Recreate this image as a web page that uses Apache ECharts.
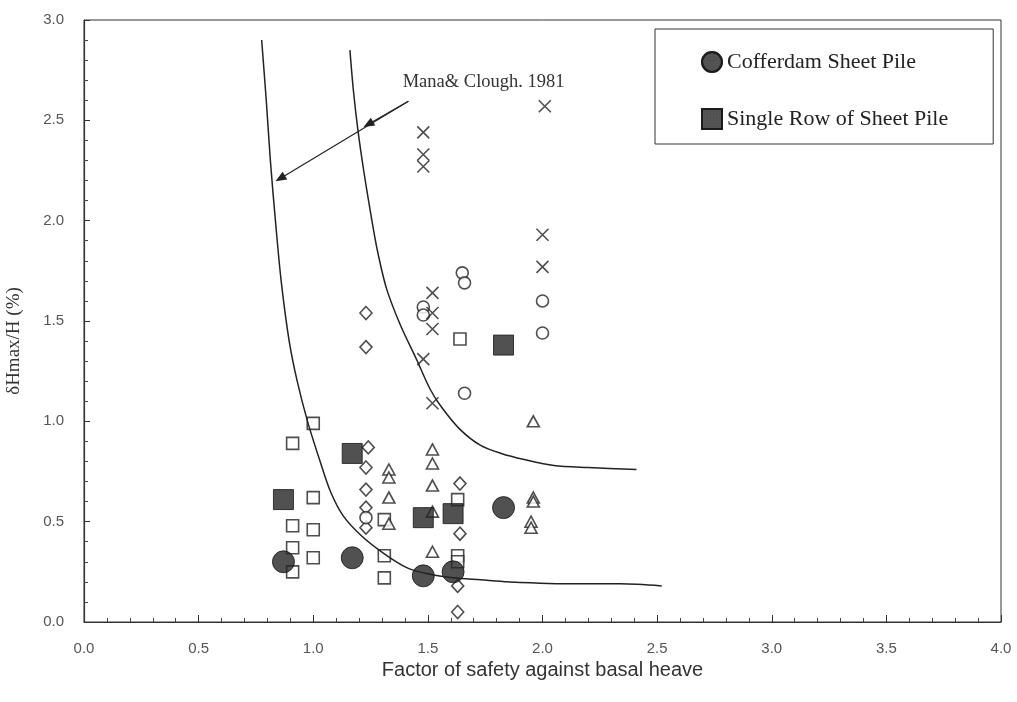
<!DOCTYPE html>
<html>
<head>
<meta charset="utf-8">
<script src="https://cdn.jsdelivr.net/npm/echarts/dist/echarts.min.js"></script>
<style>
  html, body { margin: 0; padding: 0; background: #ffffff; }
  #chart { width: 1017px; height: 702px; }
</style>
</head>
<body>
<div id="chart"></div>
<script>
// Factor of safety against basal heave (x) vs. normalised max lateral wall movement δHmax/H in % (y)

// Case histories of this study
const cofferdam = [[0.87, 0.30], [1.17, 0.32], [1.48, 0.23], [1.61, 0.25], [1.83, 0.57]];
const singleRow = [[0.87, 0.61], [1.17, 0.84], [1.48, 0.52], [1.61, 0.54], [1.83, 1.38]];

// Other published case records (open symbols)
const openSquares = [[1.0, 0.99], [0.91, 0.89], [1.0, 0.62], [0.91, 0.48], [1.0, 0.46], [0.91, 0.37],
  [0.91, 0.25], [1.0, 0.32], [1.31, 0.51], [1.31, 0.33], [1.31, 0.22], [1.63, 0.61], [1.63, 0.33],
  [1.63, 0.30], [1.64, 1.41]];
const openDiamonds = [[1.23, 1.54], [1.23, 1.37], [1.24, 0.87], [1.23, 0.77], [1.23, 0.66], [1.23, 0.57],
  [1.23, 0.47], [1.64, 0.69], [1.64, 0.44], [1.63, 0.18], [1.63, 0.05]];
const openTriangles = [[1.33, 0.76], [1.33, 0.72], [1.33, 0.62], [1.33, 0.49], [1.52, 0.86], [1.52, 0.79],
  [1.52, 0.68], [1.52, 0.55], [1.52, 0.35], [1.96, 1.0], [1.96, 0.62], [1.96, 0.60], [1.95, 0.50], [1.95, 0.47]];
const openCircles = [[1.65, 1.74], [1.66, 1.69], [1.48, 1.57], [1.48, 1.53], [2.0, 1.60], [2.0, 1.44],
  [1.66, 1.14], [1.23, 0.52]];
const crosses = [[1.48, 2.44], [1.48, 2.33], [1.48, 2.27], [2.01, 2.57], [2.0, 1.93], [2.0, 1.77],
  [1.52, 1.64], [1.52, 1.54], [1.52, 1.46], [1.48, 1.31], [1.52, 1.09]];

// Mana & Clough (1981) bounding curves
const curveLower = [[0.775, 2.90], [0.795, 2.60], [0.813, 2.30], [0.835, 2.00], [0.86, 1.70],
  [0.895, 1.40], [0.93, 1.20], [0.975, 1.00], [1.03, 0.80], [1.075, 0.65], [1.13, 0.53],
  [1.21, 0.43], [1.31, 0.34], [1.41, 0.27], [1.50, 0.24], [1.61, 0.22], [1.73, 0.21], [1.85, 0.20],
  [2.14, 0.19], [2.34, 0.19], [2.52, 0.18]];
const curveUpper = [[1.16, 2.85], [1.175, 2.65], [1.195, 2.45], [1.22, 2.25], [1.25, 2.04], [1.28, 1.85],
  [1.32, 1.66], [1.38, 1.48], [1.45, 1.31], [1.51, 1.16], [1.56, 1.07], [1.64, 0.96], [1.73, 0.88],
  [1.82, 0.84], [1.92, 0.81], [2.05, 0.78], [2.2, 0.77], [2.41, 0.76]];

// Annotation anchors (data units)
const noteText = 'Mana& Clough. 1981';
const noteAnchor = [1.39, 2.69];
const arrowStart = [1.415, 2.595];
const arrowEnds = [[0.856, 2.21], [1.24, 2.48]];

const xTicks = { min: 0, max: 4, interval: 0.5 };
const yTicks = { min: 0, max: 3, interval: 0.5 };

const ink = '#222';
const openStyle = { color: '#ffffff', borderColor: ink, borderWidth: 1.6 };
const dots = {
  symbol: 'rect', symbolSize: 0.5, dashArrayX: [2, 1], dashArrayY: [2, 1],
  color: 'rgba(130,130,130,0.5)'
};

const chart = echarts.init(document.getElementById('chart'));

chart.setOption({
  backgroundColor: '#ffffff',
  animation: false,
  grid: {
    left: 84, right: 16, top: 20, bottom: 80,
    outerBoundsMode: 'none',
    show: true, borderColor: '#333', borderWidth: 1, backgroundColor: 'transparent'
  },
  legend: {
    data: ['Cofferdam Sheet Pile', 'Single Row of Sheet Pile'],
    orient: 'vertical',
    left: 655, top: 29,
    padding: [22, 45, 14, 46],
    itemGap: 35,
    itemWidth: 20, itemHeight: 20,
    borderColor: '#333', borderWidth: 1,
    textStyle: { fontFamily: 'Liberation Serif', fontSize: 22, color: '#222' }
  },
  xAxis: {
    type: 'value',
    min: xTicks.min, max: xTicks.max, interval: xTicks.interval,
    name: 'Factor of safety against basal heave',
    nameLocation: 'middle', nameGap: 37,
    nameTextStyle: { fontFamily: 'Liberation Sans', fontSize: 20, color: '#333' },
    axisLine: { lineStyle: { color: '#333', width: 1.2 } },
    axisTick: { inside: true, length: 7, lineStyle: { color: '#333' } },
    minorTick: { show: true, splitNumber: 5, length: 4, lineStyle: { color: '#444' } },
    splitLine: { show: false },
    axisLabel: {
      margin: 19, fontFamily: 'Liberation Sans', fontSize: 15, color: '#555',
      formatter: v => v.toFixed(1)
    }
  },
  yAxis: {
    type: 'value',
    min: yTicks.min, max: yTicks.max, interval: yTicks.interval,
    name: 'δHmax/H (%)',
    nameLocation: 'middle', nameGap: 60,
    nameTextStyle: {
      fontFamily: 'Liberation Serif', fontSize: 19, color: '#333',
      padding: [0, 40, 0, 0]
    },
    axisLine: { lineStyle: { color: '#333', width: 1.2 } },
    axisTick: { inside: true, length: 6, lineStyle: { color: '#333' } },
    minorTick: { show: true, splitNumber: 5, length: 4, lineStyle: { color: '#444' } },
    splitLine: { show: false },
    axisLabel: {
      margin: 20, fontFamily: 'Liberation Sans', fontSize: 15, color: '#555',
      formatter: v => v.toFixed(1)
    }
  },
  series: [
    {
      name: 'Mana & Clough lower', type: 'line', data: curveLower,
      smooth: 0.3, showSymbol: false, silent: true,
      lineStyle: { color: ink, width: 1.5 },
      markPoint: {
        symbol: 'circle', symbolSize: 0, silent: true,
        label: {
          show: true, position: 'right', distance: 0,
          fontFamily: 'Liberation Serif', fontSize: 18.5, color: '#333',
          formatter: noteText
        },
        data: [{ coord: noteAnchor }]
      },
      markLine: {
        silent: true,
        symbol: ['none', 'triangle'],
        symbolSize: [9, 11],
        label: { show: false },
        lineStyle: { color: ink, width: 1.2, type: 'solid' },
        data: arrowEnds.map(e => [{ coord: arrowStart }, { coord: e }])
      }
    },
    {
      name: 'Mana & Clough upper', type: 'line', data: curveUpper,
      smooth: 0.3, showSymbol: false, silent: true,
      lineStyle: { color: ink, width: 1.5 }
    },
    { name: 'open square', type: 'scatter', data: openSquares, symbol: 'rect', symbolSize: 12, itemStyle: openStyle },
    { name: 'open diamond', type: 'scatter', data: openDiamonds, symbol: 'diamond', symbolSize: [12, 13], itemStyle: openStyle },
    { name: 'open triangle', type: 'scatter', data: openTriangles, symbol: 'triangle', symbolSize: [12, 11], itemStyle: openStyle },
    { name: 'open circle', type: 'scatter', data: openCircles, symbol: 'circle', symbolSize: 12, itemStyle: openStyle },
    {
      name: 'cross', type: 'scatter', data: crosses,
      symbol: 'path://M0,0L10,10M10,0L0,10', symbolSize: 12,
      itemStyle: { color: 'transparent', borderColor: ink, borderWidth: 1.6 }
    },
    {
      name: 'Single Row of Sheet Pile', type: 'scatter', data: singleRow,
      symbol: 'rect', symbolSize: 20,
      itemStyle: { color: '#262626', borderColor: '#151515', borderWidth: 1, decal: dots }
    },
    {
      name: 'Cofferdam Sheet Pile', type: 'scatter', data: cofferdam,
      symbol: 'circle', symbolSize: 22,
      itemStyle: { color: '#262626', borderColor: '#151515', borderWidth: 1, decal: dots }
    }
  ]
});
</script>
</body>
</html>
